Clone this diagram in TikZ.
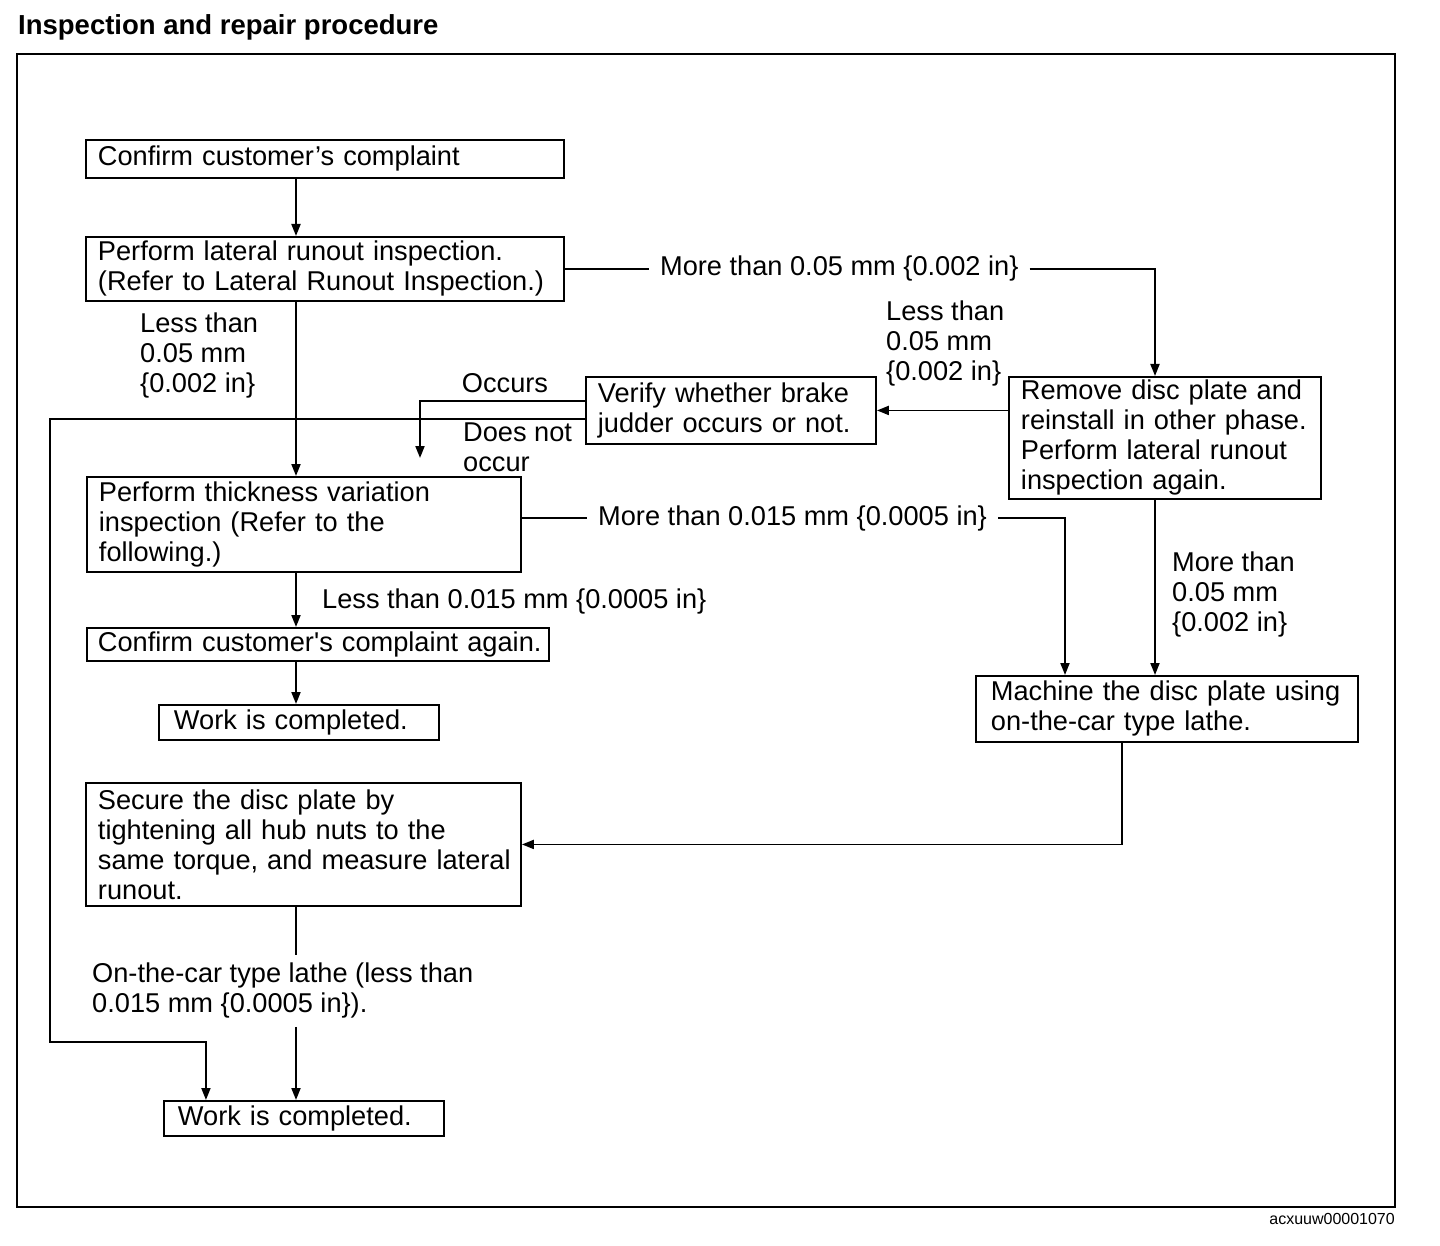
\documentclass[tikz,border=0pt]{standalone}
\usepackage{fontspec}
\setmainfont{Liberation Sans}
\usetikzlibrary{positioning,arrows.meta}

\begin{document}
\begin{tikzpicture}[x=1pt,y=-1pt,
  stepbox/.style={draw, line width=1.9pt, anchor=north west, align=left,
    inner xsep=12pt, inner ysep=0pt, font=\fontsize{27.2}{30}\selectfont},
  answer/.style={inner sep=0pt, align=left, font=\fontsize{27.2}{30}\selectfont},
  inline/.style={answer, inner xsep=11pt},
  wire/.style={line width=1.9pt},
  flow/.style={wire, -{Triangle[length=12pt,width=9pt]}}]
\useasboundingbox (0,0) rectangle (1440,1246);
%\draw[help lines] (0,0) grid[step=100] (1440,1246);
\draw[line width=1.5pt] (17,54) rectangle (1395,1207);
\node[anchor=west, inner sep=0pt, font=\bfseries\fontsize{27.5}{30}\selectfont] (title) at (18,27) {Inspection and repair procedure};
\node[anchor=east, inner sep=0pt, font=\fontsize{16}{18}\selectfont] (figid) at (1395,1219) {acxuuw00001070};

% columns the arrows run on
\coordinate (spine) at (296,0);
\coordinate (rightspine) at (1155,0);
\coordinate (midspine) at (1065,0);
\coordinate (lathe-out) at (1122,0);

% boxes
\node[stepbox, text width=454pt, minimum height=38pt] (confirm) at (85,139) {Confirm customer’s complaint};
\node[stepbox, text width=454pt, minimum height=64pt] (lateral) at (85,236) {Perform lateral runout inspection.\\(Refer to Lateral Runout Inspection.)};
\node[stepbox, text width=266pt, minimum height=67pt] (verify) at (585,376) {Verify whether brake\\judder occurs or not.};
\node[stepbox, text width=288pt, minimum height=122pt] (remove) at (1008,376) {Remove disc plate and\\\mbox{reinstall in other phase.}\\Perform lateral runout\\inspection again.};
\node[stepbox, text width=410pt, minimum height=95pt] (thickness) at (86,476) {Perform thickness variation\\inspection (Refer to the\\following.)};
\node[stepbox, text width=440pt, inner xsep=11pt, minimum height=33pt] (again) at (86,627) {\mbox{Confirm customer\textquotesingle s complaint again.}};
\node[stepbox, text width=250pt, inner xsep=15pt, minimum height=35pt] (work1) at (158,704) {Work is completed.};
\node[stepbox, text width=352pt, inner xsep=15pt, minimum height=66pt] (machine) at (975,675) {\mbox{Machine the disc plate using}\\on-the-car type lathe.};
\node[stepbox, text width=411pt, minimum height=123pt] (secure) at (85,782) {Secure the disc plate by\\\mbox{tightening all hub nuts to the}\\\mbox{same torque, and measure lateral}\\runout.};
\node[stepbox, text width=252pt, inner xsep=14pt, minimum height=35pt] (work2) at (163,1100) {Work is completed.};

% lateral runout
\draw[flow] (confirm.south -| spine) -- (lateral.north -| spine);
\node[inline, right=84pt of lateral.east] (runout-more) {More than 0.05 mm \{0.002 in\}};
\draw[wire] (lateral.east) -- (runout-more.west);
\draw[flow] (runout-more.east) -| (remove.north -| rightspine);
\node[answer, anchor=north west] (runout-less) at (140,313) {Less than\\0.05 mm\\\{0.002 in\}};
\draw[flow] (lateral.south -| spine) -- (thickness.north -| spine);

% after reinstalling
\node[answer, anchor=north west] (reinstall-less) at (886,301) {Less than\\0.05 mm\\\{0.002 in\}};
\draw[flow] (remove.west |- verify.east) -- (verify.east);
\node[answer, anchor=north west] (reinstall-more) at (1172,552) {More than\\0.05 mm\\\{0.002 in\}};
\draw[flow] (remove.south -| rightspine) -- (machine.north -| rightspine);

% brake judder
\node[answer] (occurs) at (505,383) {Occurs};
\coordinate (occurs-tip) at (420,458);
\draw[flow] ([yshift=9.5pt]verify.west) -| (occurs-tip);
\node[answer, anchor=north west] (notoccur) at (463,423) {Does not\\occur};
\coordinate (judder-turn) at (50,1042);
\draw[flow] ([yshift=-8.5pt]verify.west) -| (judder-turn) -| ([xshift=-98pt]work2.north);

% thickness variation
\node[inline, anchor=west] (thick-more) at (587,518) {More than 0.015 mm \{0.0005 in\}};
\draw[wire] (thickness.east |- thick-more) -- (thick-more.west);
\draw[flow] (thick-more.east) -| (machine.north -| midspine);
\draw[flow] (thickness.south -| spine) -- (again.north -| spine);
\node[answer, anchor=west] (thick-less) at (322,601) {Less than 0.015 mm \{0.0005 in\}};
\draw[flow] (again.south -| spine) -- (work1.north -| spine);

% machining
\draw[flow] (machine.south -| lathe-out) |- (secure.east);
\node[answer, anchor=north west] (lathe-ok) at (92,963) {On-the-car type lathe (less than\\0.015 mm \{0.0005 in\}).};
\draw[wire] (secure.south -| spine) -- ([yshift=8pt]spine |- lathe-ok.north);
\draw[flow] ([yshift=-8pt]spine |- lathe-ok.south) -- (work2.north -| spine);
\end{tikzpicture}
\end{document}
